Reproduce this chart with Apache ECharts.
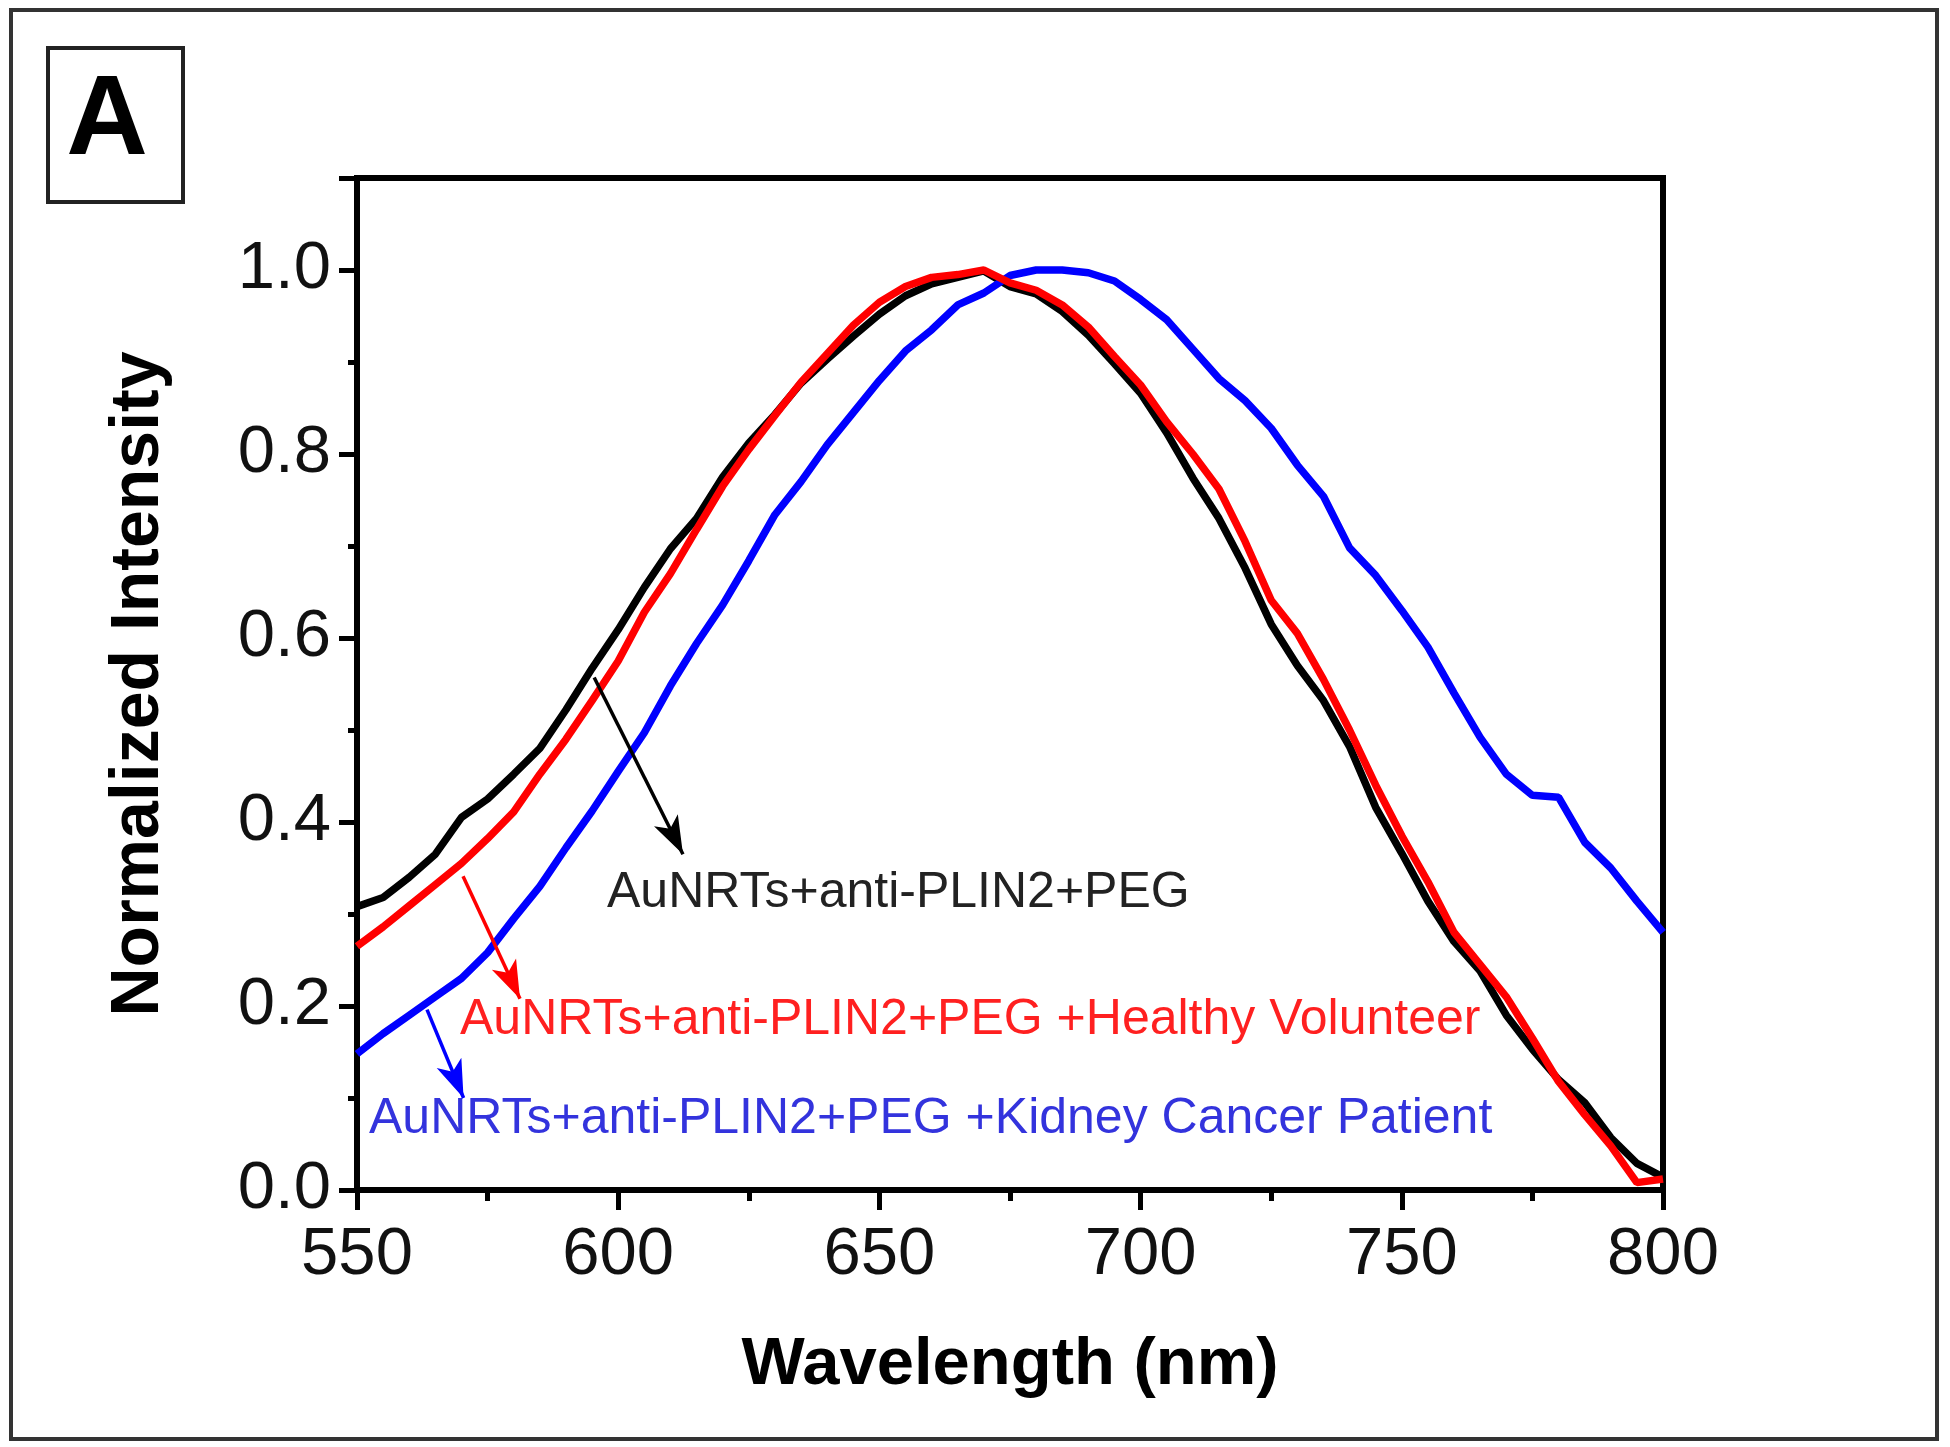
<!DOCTYPE html>
<html>
<head>
<meta charset="utf-8">
<title>Normalized Intensity</title>
<script src="https://cdn.jsdelivr.net/npm/echarts@6/dist/echarts.min.js"></script>
<style>
  html, body { margin: 0; padding: 0; background: #fff; }
  #main { width: 1950px; height: 1447px; }
</style>
</head>
<body>
<div id="main"></div>
<script>
// wavelength grid (nm)
var wavelength = [550,555,560,565,570,575,580,585,590,595,600,605,610,615,620,625,630,635,640,645,
  650,655,660,665,670,675,680,685,690,695,700,705,710,715,720,725,730,735,740,745,
  750,755,760,765,770,775,780,785,790,795,800];

// AuNRTs+anti-PLIN2+PEG
var pegOnly = [0.308,0.318,0.340,0.365,0.405,0.425,0.452,0.480,0.522,0.567,0.609,0.655,0.697,0.730,0.775,0.812,0.843,0.877,0.903,0.928,
  0.952,0.972,0.985,0.992,0.999,0.982,0.974,0.955,0.929,0.898,0.866,0.823,0.774,0.730,0.676,0.615,0.570,0.532,0.482,0.416,
  0.366,0.314,0.270,0.238,0.190,0.153,0.120,0.095,0.057,0.029,0.014];

// + Healthy Volunteer
var healthy = [0.265,0.286,0.309,0.332,0.355,0.382,0.411,0.452,0.490,0.532,0.575,0.628,0.670,0.718,0.765,0.805,0.842,0.878,0.909,0.940,
  0.965,0.982,0.992,0.995,1.000,0.986,0.978,0.962,0.938,0.906,0.875,0.835,0.800,0.762,0.705,0.641,0.605,0.555,0.500,0.440,
  0.385,0.335,0.280,0.245,0.210,0.165,0.118,0.082,0.048,0.008,0.012];

// + Kidney Cancer Patient
var cancer = [0.148,0.170,0.190,0.210,0.230,0.258,0.295,0.330,0.372,0.412,0.455,0.497,0.548,0.594,0.636,0.684,0.734,0.770,0.810,0.845,
  0.880,0.912,0.935,0.962,0.975,0.994,1.000,1.000,0.997,0.988,0.968,0.946,0.914,0.882,0.858,0.828,0.788,0.754,0.698,0.668,
  0.630,0.590,0.540,0.492,0.452,0.429,0.427,0.378,0.350,0.314,0.280];

var labels = [
  'AuNRTs+anti-PLIN2+PEG',
  'AuNRTs+anti-PLIN2+PEG +Healthy Volunteer',
  'AuNRTs+anti-PLIN2+PEG +Kidney Cancer Patient'
];

// arrow start/end in data units [nm, intensity]
var arrowBlack = [[595.4, 0.557], [612.4, 0.365]];
var arrowRed = [[570.3, 0.341], [581.2, 0.208]];
var arrowBlue = [[563.4, 0.196], [570.4, 0.100]];

var FONT = "'Liberation Sans', Arial, sans-serif";

function pairs(ys) {
  return wavelength.map(function (x, i) { return [x, ys[i]]; });
}

function arrow(pts, color) {
  return {
    silent: true,
    symbol: ['none', 'arrow'],
    symbolSize: [20, 38],
    label: { show: false },
    lineStyle: { color: color, width: 3.5, type: 'solid' },
    data: [[{ coord: pts[0] }, { coord: pts[1] }]]
  };
}

var chart = echarts.init(document.getElementById('main'));

var option = {
  animation: false,
  backgroundColor: '#fff',
  grid: {
    left: 357, right: 287, top: 178, bottom: 257,
    show: true, borderColor: '#000', borderWidth: 6
  },
  xAxis: {
    type: 'value',
    min: 550, max: 800, interval: 50,
    name: 'Wavelength (nm)',
    nameLocation: 'middle',
    nameGap: 142,
    nameTextStyle: { fontFamily: FONT, fontWeight: 'bold', fontSize: 67, color: '#000' },
    axisLine: { lineStyle: { color: '#000', width: 6 } },
    axisTick: { inside: false, length: 20, lineStyle: { color: '#000', width: 5 } },
    minorTick: { show: true, splitNumber: 2, length: 11, lineStyle: { color: '#000', width: 5 } },
    axisLabel: { margin: 32, fontFamily: FONT, fontSize: 67, color: '#111' },
    splitLine: { show: false }
  },
  yAxis: {
    type: 'value',
    min: 0, max: 1.1, interval: 0.2,
    name: 'Normalized Intensity',
    nameLocation: 'middle',
    nameGap: 184,
    nameTextStyle: { fontFamily: FONT, fontWeight: 'bold', fontSize: 68, color: '#000' },
    axisLine: { lineStyle: { color: '#000', width: 6 } },
    axisTick: { inside: false, length: 18, lineStyle: { color: '#000', width: 5 } },
    minorTick: { show: true, splitNumber: 2, length: 9, lineStyle: { color: '#000', width: 5 } },
    axisLabel: {
      margin: 26, fontFamily: FONT, fontSize: 67, color: '#111',
      showMaxLabel: false,
      formatter: function (v) { return v.toFixed(1); }
    },
    splitLine: { show: false }
  },
  series: [
    {
      name: labels[0], type: 'line', data: pairs(pegOnly),
      showSymbol: false, symbol: 'none',
      lineStyle: { color: '#000', width: 7.5 },
      markLine: arrow(arrowBlack, '#000')
    },
    {
      name: labels[2], type: 'line', data: pairs(cancer),
      showSymbol: false, symbol: 'none',
      lineStyle: { color: '#0000ff', width: 7.5 },
      markLine: arrow(arrowBlue, '#0000ff')
    },
    {
      name: labels[1], type: 'line', data: pairs(healthy),
      showSymbol: false, symbol: 'none',
      lineStyle: { color: '#ff0000', width: 7.5 },
      markLine: arrow(arrowRed, '#ff0000')
    }
  ],
  graphic: [
    // outer frame
    { type: 'rect', shape: { x: 11, y: 10, width: 1926, height: 1429 },
      style: { fill: 'none', stroke: '#333', lineWidth: 4 }, silent: true },
    // panel letter box
    { type: 'rect', shape: { x: 48, y: 48, width: 135, height: 154 },
      style: { fill: 'none', stroke: '#222', lineWidth: 4 }, silent: true },
    { type: 'text', x: 107, y: 123,
      style: { text: 'A', fontFamily: FONT, fontWeight: 'bold', fontSize: 113,
               fill: '#000', align: 'center', verticalAlign: 'middle' } },
    // curve annotations
    { type: 'text', x: 607, y: 893,
      style: { text: labels[0], fontFamily: FONT, fontSize: 50, fill: '#222',
               align: 'left', verticalAlign: 'middle' } },
    { type: 'text', x: 460, y: 1020,
      style: { text: labels[1], fontFamily: FONT, fontSize: 50, fill: '#ff2020',
               align: 'left', verticalAlign: 'middle' } },
    { type: 'text', x: 369, y: 1119,
      style: { text: labels[2], fontFamily: FONT, fontSize: 50, fill: '#3333dd',
               align: 'left', verticalAlign: 'middle' } }
  ]
};

chart.setOption(option);
</script>
</body>
</html>
